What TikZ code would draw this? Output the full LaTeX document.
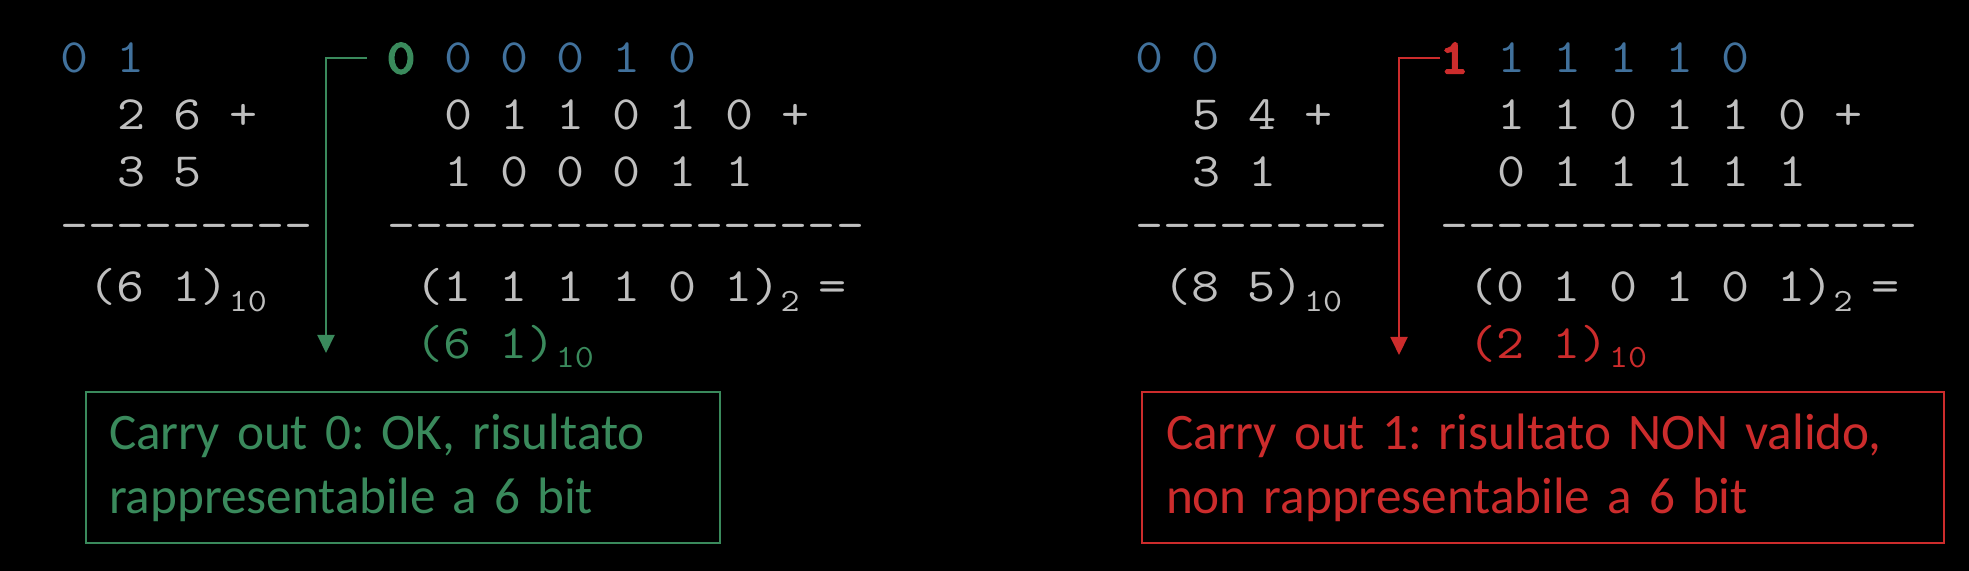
\documentclass[tikz,border=0pt]{standalone}
\usepackage{fontspec}
\usetikzlibrary{arrows.meta}
\newfontfamily\monof[FakeStretch=1.14]{Latin Modern Mono}
\newfontfamily\monobf[FakeStretch=1.14,FakeBold=5]{Latin Modern Mono}
\newfontfamily\boxf{Carlito}
\definecolor{bgc}{RGB}{0,0,0}
\definecolor{grayt}{RGB}{191,191,191}
\definecolor{bluet}{RGB}{65,113,156}
\definecolor{greent}{RGB}{58,138,92}
\definecolor{redt}{RGB}{204,44,44}
\newcommand\subsc[1]{\raisebox{-5pt}{\fontsize{16.2}{16.2}\selectfont #1}}
\tikzset{
  txt/.style={anchor=base west, inner sep=0pt, outer sep=0pt, text=grayt, font=\monof\fontsize{23.9}{28}\selectfont},
  bluetxt/.style={txt, text=bluet},
  carry/.style={txt, font=\monobf\fontsize{23.9}{28}\selectfont},
  conn/.style={line width=1pt, -{Triangle[length=9pt,width=8.5pt]}},
  msgbox/.style={draw, line width=0.8pt, align=left, anchor=center, font=\boxf\fontsize{25.6}{32}\selectfont}
}
\begin{document}
\frenchspacing
\begin{tikzpicture}[x=0.5pt,y=-0.5pt]
\fill[bgc] (0,0) rectangle (1969,571);
\useasboundingbox (0,0) rectangle (1969,571);
% ---------- left example ----------
\node[bluetxt] (lr1) at (60,73) {0 1};
\node[txt] (lr2) at (117.4,130) {2 6 +};
\node[txt] (lr3) at (117.4,187) {3 5};
\node[txt] (ld) at (60,241) {---------};
\node[txt] (lres) at (88.7,302) {(6 1)\subsc{10}};
\node[carry, text=greent] (c1) at (387,73) {0};
\node[bluetxt] (rr1) at (444.4,73) {0 0 0 1 0};
\node[txt] (rr2) at (444.4,130) {0 1 1 0 1 0 +};
\node[txt] (rr3) at (444.4,187) {1 0 0 0 1 1};
\node[txt] (rd) at (387,241) {-----------------};
\node[txt] (rres) at (415.7,302) {(1 1 1 1 0 1)\subsc{2 }=};
\node[txt, text=greent] (rdec) at (415.7,358) {(6 1)\subsc{10}};
\coordinate (gend) at (326,353);
\draw[conn, greent] ([xshift=-10pt]c1.west) -| (gend);
\node[msgbox, draw=greent, text=greent, minimum width=317pt, minimum height=75.5pt, text width=294pt, inner xsep=11.5pt] (gbox) at (403,467.5)
  {Carry out 0: OK, risultato\\rappresentabile a 6 bit};
% ---------- right example ----------
\node[bluetxt] (Lr1) at (1135,73) {0 0};
\node[txt] (Lr2) at (1192.4,130) {5 4 +};
\node[txt] (Lr3) at (1192.4,187) {3 1};
\node[txt] (Ld) at (1135,241) {---------};
\node[txt] (Lres) at (1163.7,302) {(8 5)\subsc{10}};
\node[carry, text=redt] (c2) at (1440,73) {1};
\node[bluetxt] (Rr1) at (1497.4,73) {1 1 1 1 0};
\node[txt] (Rr2) at (1497.4,130) {1 1 0 1 1 0 +};
\node[txt] (Rr3) at (1497.4,187) {0 1 1 1 1 1};
\node[txt] (Rd) at (1440,241) {-----------------};
\node[txt] (Rres) at (1468.7,302) {(0 1 0 1 0 1)\subsc{2 }=};
\node[txt, text=redt] (Rdec) at (1468.7,358) {(2 1)\subsc{10}};
\coordinate (rend) at (1399,355);
\draw[conn, redt] (c2.west) -| (rend);
\node[msgbox, draw=redt, text=redt, minimum width=401pt, minimum height=75.5pt, text width=377pt, inner xsep=12pt] (rbox) at (1543,467.5)
  {Carry out 1: risultato NON valido,\\non rappresentabile a 6 bit};
\end{tikzpicture}
\end{document}
